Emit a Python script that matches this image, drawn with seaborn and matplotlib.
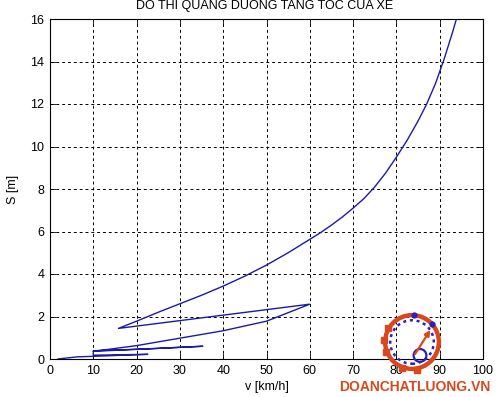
import numpy as np
import pandas as pd
import seaborn as sns
import matplotlib
matplotlib.use("Agg")
import matplotlib.pyplot as plt
from matplotlib.patches import Circle, FancyArrowPatch

# ---- data ----
v_kmh = [1.8, 6.2, 12.0, 17.0, 22.6,          # gear 1
         10.0, 10.0,                          # return + jump
         22.0, 35.3,                          # gear 2
         10.0,                                # return
         20.0, 30.0, 40.0, 50.0, 60.0,        # gear 3
         15.8,                                # return
         20.0, 25.0, 30.0, 35.0, 40.0, 45.0, 50.0, 55.0, 60.0,
         62.5, 65.0, 67.5, 70.0, 72.5, 75.0, 77.5, 80.0, 82.5,
         85.0, 87.0, 89.0, 91.0, 93.0, 94.0, 95.0]  # gear 4
s_m = [0.00, 0.10, 0.14, 0.18, 0.22,
       0.18, 0.39,
       0.47, 0.60,
       0.36,
       0.63, 0.98, 1.33, 1.78, 2.58,
       1.44,
       1.78, 2.20, 2.60, 3.00, 3.43, 3.90, 4.42, 5.00, 5.63,
       5.95, 6.30, 6.68, 7.10, 7.55, 8.10, 8.75, 9.50, 10.30,
       11.20, 12.00, 12.95, 14.10, 15.40, 16.10, 16.90]

x_ticks = list(range(0, 101, 10))
y_ticks = list(range(0, 17, 2))
title = "DO THI QUANG DUONG TANG TOC CUA XE"
x_label = "v [km/h]"
y_label = "S [m]"
watermark = "DOANCHATLUONG.VN"

df = pd.DataFrame({"v": v_kmh, "S": s_m})

sns.set_theme(style="white")
plt.rcParams["font.family"] = ["Liberation Sans", "DejaVu Sans"]

W, H = 497, 397
fig = plt.figure(figsize=(W / 100, H / 100), dpi=100)
fig.patch.set_facecolor("white")
ax = fig.add_axes([50 / W, (H - 359) / H, (483 - 50) / W, (359 - 19) / H])
ax.set_facecolor("white")

sns.lineplot(data=df, x="v", y="S", sort=False, estimator=None,
             color="#1a1aa8", lw=1.0, ax=ax)

ax.set_xlim(0, 100)
ax.set_ylim(0, 16)
ax.set_xticks(x_ticks)
ax.set_yticks(y_ticks)
ax.set_xticklabels([str(t) for t in x_ticks], fontsize=9, color="black")
ax.set_yticklabels([str(t) for t in y_ticks], fontsize=9, color="black")
ax.tick_params(direction="in", length=4, width=0.6, color="black",
               top=True, right=True, bottom=True, left=True, pad=4)
ax.grid(True, color="black", linestyle=(0, (3, 3)), lw=0.7)
for sp in ax.spines.values():
    sp.set_color("black")
    sp.set_linewidth(0.8)
    sp.set_visible(True)
ax.set_xlabel(x_label, fontsize=9, color="black", labelpad=3)
ax.set_ylabel(y_label, fontsize=9, color="black", labelpad=8)

fig.text(265 / W, 1 - 9 / H, title, ha="center", va="baseline",
         fontsize=9, color="black")

# ---- watermark logo (decoration) ----
lax = fig.add_axes([(412 - 32) / W, (H - 342 - 32) / H, 64 / W, 64 / H])
lax.set_xlim(-1, 1)
lax.set_ylim(-1, 1)
lax.axis("off")
lax.patch.set_alpha(0)
orange = "#d9481c"
blue = "#2a1fc0"
lax.add_patch(Circle((0, 0), 0.84, fill=False, ec=orange, lw=3.2))
lax.add_patch(Circle((0, 0), 0.68, fill=False, ec=blue, lw=1.8, ls=(0, (1.2, 1.5))))
lax.add_patch(Circle((0.25, -0.42), 0.2, fill=False, ec=blue, lw=1.6))
lax.add_patch(FancyArrowPatch((0.05, -0.45), (0.62, 0.45), arrowstyle="-|>",
                              mutation_scale=8, color=orange, lw=1.6))
lax.plot([0.05, 0.62], [0.84, 0.56], "o", color=blue, ms=3.5)
for ang in [150, 175, 200, 250, 280]:
    a = np.deg2rad(ang)
    lax.plot([0.88 * np.cos(a)], [0.88 * np.sin(a)], "s", color=orange, ms=4)

fig.text(415 / W, 1 - 387 / H, watermark, ha="center", va="center",
         fontsize=10, fontweight="bold", color=orange)

fig.savefig("out.png", dpi=100)
